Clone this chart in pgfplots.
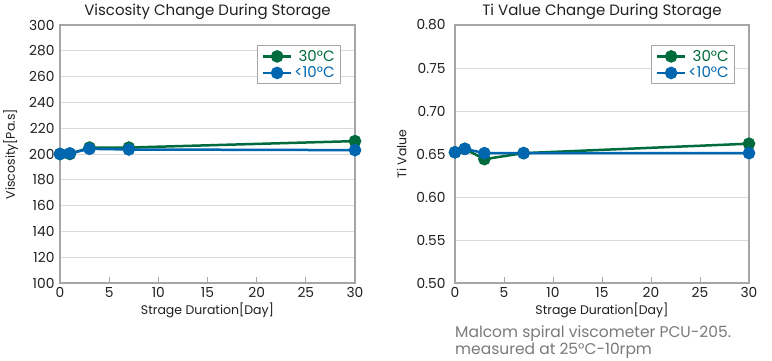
\documentclass[border=0pt]{standalone}
\usepackage{fontspec}
\setmainfont{Poppins}
\usepackage{pgfplots}
\pgfplotsset{compat=1.18}
\definecolor{cg}{HTML}{006B3C}
\definecolor{cb}{HTML}{0066B0}
\definecolor{frame}{HTML}{A6A6A6}
\definecolor{gridc}{HTML}{DADADA}
\definecolor{txt}{HTML}{231F20}
\definecolor{note}{HTML}{7A7A7A}
\pgfplotsset{
  myax/.style={
    scale only axis, width=295pt, height=258pt,
    xmin=0, xmax=30, xtick={0,5,...,30},
    axis line style={frame, line width=1.2pt},
    major tick style={frame, line width=1pt},
    tick align=inside, major tick length=6pt,
    ymajorgrids, grid style={gridc, line width=0.8pt},
    ytick style={draw=none},
    xtick pos=bottom,
    /pgf/number format/assume math mode=true,
    tick label style={font=\fontsize{13.8}{13.8}\selectfont, text=txt},
    xticklabel style={yshift=-1pt},
    yticklabel style={xshift=-2pt},
    label style={font=\fontsize{12.5}{12.5}\selectfont, text=txt},
    title style={font=\fontsize{15}{15}\selectfont, text=txt, yshift=-4pt},
    legend style={draw=frame, line width=1pt, at={(0.953,0.922)}, anchor=north east,
      font=\fontsize{15}{15}\selectfont, inner xsep=4pt, inner ysep=2.5pt,
      row sep=0pt, /tikz/every even column/.append style={column sep=2pt}},
    legend cell align=right,
    every axis plot/.append style={line width=2.5pt, mark=*, mark size=5pt},
    legend image code/.code={
      \draw[#1] (0pt,0pt) -- (28pt,0pt);
      \fill[#1] (14pt,0pt) circle (5pt);
    },
  }
}
\begin{document}
\begin{tikzpicture}
\path[use as bounding box] (0pt,0pt) rectangle (772pt,360pt);
\begin{axis}[myax, at={(60pt,77pt)}, anchor=south west,
  ymin=100, ymax=300, ytick={100,120,...,300},
  title={Viscosity Change During Storage},
  xlabel={Strage Duration[Day]}, ylabel={Viscosity[Pa.s]},
  xlabel style={yshift=2pt}, ylabel style={yshift=4pt}]
\addplot[cg, mark options={fill=cg}] coordinates {(0,200) (1,200) (3,205) (7,205) (30,210)};
\addlegendentry{\textcolor{cg}{30°C}}
\addplot[cb, mark options={fill=cb}] coordinates {(0,200) (1,200.5) (3,204) (7,203.5) (30,203)};
\addlegendentry{\textcolor{cb}{<10°C}}
\end{axis}
\begin{axis}[myax, at={(455pt,77pt)}, anchor=south west, width=294pt,
  ymin=0.5, ymax=0.8, ytick={0.5,0.55,...,0.81},
  yticklabel style={/pgf/number format/fixed, /pgf/number format/fixed zerofill, /pgf/number format/precision=2, xshift=-4pt},
  title={Ti Value Change During Storage},
  xlabel={Strage Duration[Day]}, ylabel={Ti Value},
  xlabel style={yshift=2pt}, ylabel style={yshift=3pt}]
\addplot[cg, mark options={fill=cg}] coordinates {(0,0.652) (1,0.656) (3,0.644) (7,0.651) (30,0.662)};
\addlegendentry{\textcolor{cg}{30°C}}
\addplot[cb, mark options={fill=cb}] coordinates {(0,0.652) (1,0.656) (3,0.651) (7,0.651) (30,0.651)};
\addlegendentry{\textcolor{cb}{<10°C}}
\end{axis}
\node[anchor=north west, align=left, text=note, font=\fontsize{15.5}{14.5}\selectfont, inner sep=0pt] at (455pt,34pt) {Malcom spiral viscometer PCU-205.\\measured at 25°C-10rpm};
\end{tikzpicture}
\end{document}
